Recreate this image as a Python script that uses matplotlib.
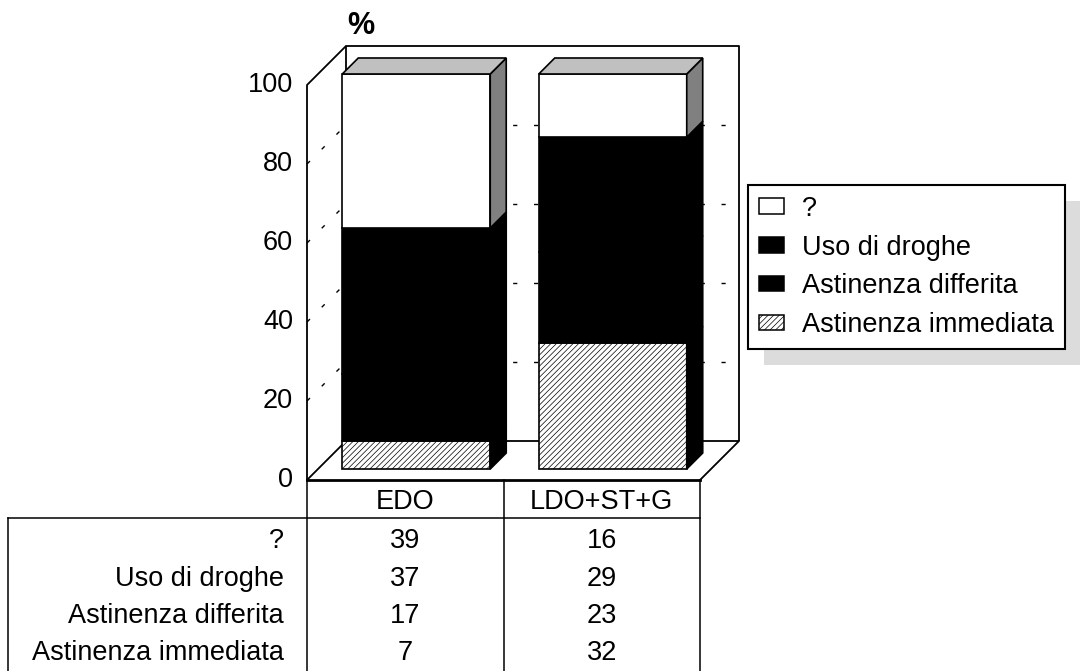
import matplotlib.pyplot as plt
from matplotlib.patches import Polygon, Rectangle, Patch
from matplotlib.transforms import blended_transform_factory, IdentityTransform

plt.rcParams['font.family'] = ['Liberation Sans', 'DejaVu Sans']
plt.rcParams['hatch.linewidth'] = 0.5
plt.rcParams['hatch.color'] = '#8a8a8a'

groups = ['EDO', 'LDO+ST+G']
series = ['Astinenza immediata', 'Astinenza differita', 'Uso di droghe', '?']
immediata = [7, 32]
differita = [17, 23]
droghe = [37, 29]
ignoto = [39, 16]
yticks = [0, 20, 40, 60, 80, 100]

stack = [immediata, differita, droghe, ignoto]
front_col = ['white', 'black', 'black', 'white']
side_col = ['black', 'black', 'black', '#808080']
hatches = ['//////', None, None, None]
FS = 19.5

W, H = 1080, 671
fig = plt.figure(figsize=(W / 100, H / 100), dpi=100)
# front plane of the 3d box: x 0..2 (two groups), y 0..100 %
ax = fig.add_axes([307 / W, (H - 480) / H, 393 / W, 395 / H])
ax.set_xlim(0, 2)
ax.set_ylim(0, 100)
ax.axis('off')

# pixel -> data helpers for the oblique depth
px_x = (393 / 2)
px_y = 3.95
dxw, dyw = 39 / px_x, 39 / px_y      # wall depth
bx, by = 11 / px_x, 11 / px_y        # bar front offset
dbx, dby = 16 / px_x, 16 / px_y      # bar depth
bar_w = 0.753

lk = dict(color='black', lw=1.3, clip_on=False, solid_capstyle='butt')
grid = dict(color='black', lw=1.0, ls=(0, (3, 12)), clip_on=False)

# gridlines on left wall and back wall
for v in yticks[1:-1]:
    ax.plot([0, dxw], [v, v + dyw], **grid)
    ax.plot([dxw, 2 + dxw], [v + dyw, v + dyw], **grid)

# walls and floor
ax.plot([0, 0, dxw], [0, 100, 100 + dyw], **lk)
ax.plot([dxw, dxw, 2 + dxw, 2 + dxw], [dyw, 100 + dyw, 100 + dyw, dyw], **lk)
ax.plot([0, dxw, 2 + dxw, 2], [0, dyw, dyw, 0], **lk)
ax.plot([0, 2], [0, 0], color='black', lw=2, clip_on=False)


def face(pts, fc, hatch=None, z=3):
    ax.add_patch(Polygon(pts, closed=True, facecolor=fc, edgecolor='black',
                         lw=1.2, hatch=hatch, clip_on=False, zorder=z))


for i in range(len(groups)):
    x0 = i + 0.5 - bar_w / 2 + bx
    x1 = x0 + bar_w
    bottom = by
    for k, vals in enumerate(stack):
        top = bottom + vals[i]
        face([(x0, bottom), (x1, bottom), (x1, top), (x0, top)],
             front_col[k], hatches[k])
        face([(x1, bottom), (x1 + dbx, bottom + dby),
              (x1 + dbx, top + dby), (x1, top)], side_col[k])
        bottom = top
    face([(x0, bottom), (x0 + dbx, bottom + dby),
          (x1 + dbx, bottom + dby), (x1, bottom)], '#c0c0c0')

# value axis labels
for v in yticks:
    ax.text(-0.071, v, str(v), ha='right', va='center', fontsize=FS)
ax.text((361 - 307) / px_x, 115, '%', ha='center', va='center',
        fontsize=22, fontweight='bold')

# data table under the chart
tr = blended_transform_factory(ax.transData, ax.transAxes)
tl = dict(color='black', lw=1.1, clip_on=False, transform=tr)
y_sep = (480 - 518) / 395
y_end = (480 - 671) / 395
x_left = (8 - 307) / px_x
ax.plot([x_left, 2], [y_sep, y_sep], **tl)
ax.plot([x_left, x_left], [y_sep, y_end], **tl)
for xv in [0, 1, 2]:
    ax.plot([xv, xv], [0, y_end], **tl)

for i, g in enumerate(groups):
    ax.text(i + 0.5, (480 - 502) / 395, g, ha='center', va='center',
            fontsize=FS, transform=tr)

row_y = [541, 579, 616, 653]
for r, k in enumerate(range(len(series) - 1, -1, -1)):
    yy = (480 - row_y[r]) / 395
    ax.text((284 - 307) / px_x, yy, series[k], ha='right', va='center',
            fontsize=FS, transform=tr)
    for i in range(len(groups)):
        ax.text(i + 0.5, yy, str(stack[k][i]), ha='center', va='center',
                fontsize=FS, transform=tr)

# legend, top series first
handles = [
    Patch(facecolor='white', edgecolor='black', lw=1.1),
    Patch(facecolor='black', edgecolor='black', lw=1.1),
    Patch(facecolor='black', edgecolor='black', lw=1.1),
    Patch(facecolor='white', edgecolor='black', lw=1.1, hatch='//////'),
]
leg = fig.legend(handles, series[::-1], loc='upper left',
                 bbox_to_anchor=(748 / W, 1 - 185 / H), borderaxespad=0,
                 fontsize=FS, frameon=True, fancybox=False, framealpha=1,
                 handlelength=0.92, handleheight=0.5, handletextpad=0.68,
                 labelspacing=0.47, borderpad=0.4)
leg.get_frame().set_edgecolor('black')
leg.get_frame().set_linewidth(1.5)
leg.set_zorder(5)

fig.canvas.draw()
bb = leg.get_window_extent()
fig.patches.append(Rectangle((bb.x0 + 16, bb.y0 - 16), bb.width, bb.height,
                             facecolor='#dcdcdc', edgecolor='none',
                             transform=IdentityTransform(), zorder=4))

fig.savefig('out.png', dpi=100)
